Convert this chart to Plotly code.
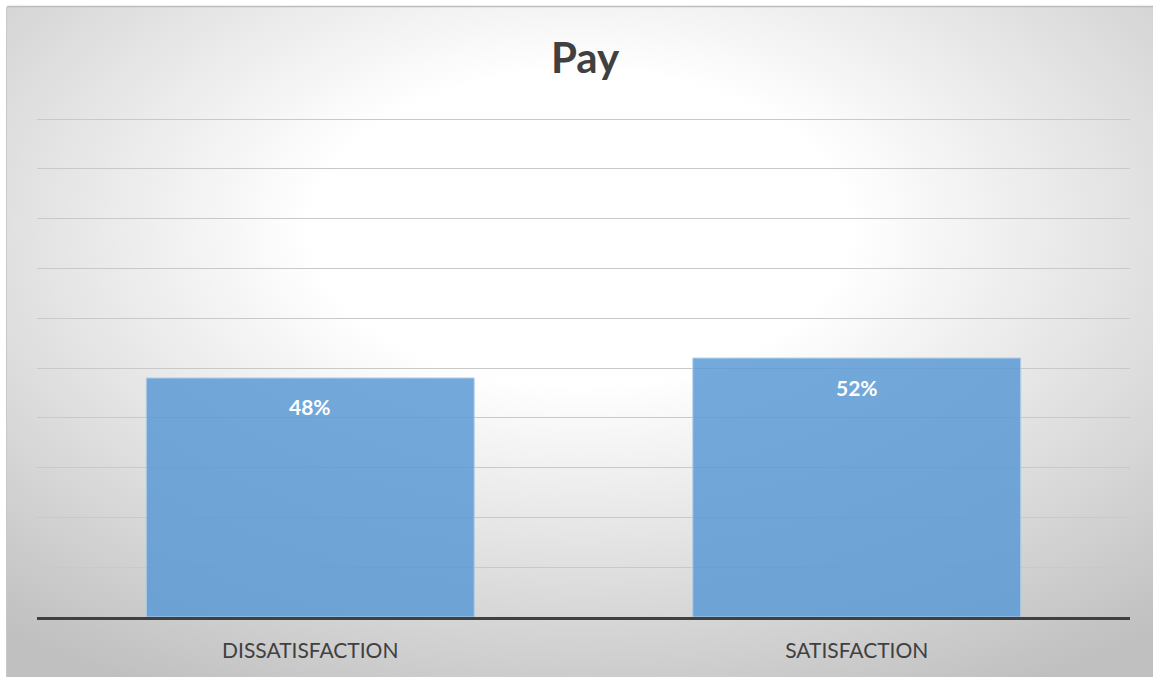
import base64
import plotly.graph_objects as go

# Survey result for the "Pay" item
categories = ["DISSATISFACTION", "SATISFACTION"]
shares = [0.48, 0.52]
title_text = "Pay"

W, H = 1153, 677
L, R, T, B = 37, 23, 113, 60
plot_w = W - L - R
plot_h = H - T - B
# axis headroom so the 100 % gridline sits just below the plot edge
unit_h = 498
y_top = plot_h / unit_h

# Soft radial backdrop (white centre fading to grey edges)
svg = (
    '<svg xmlns="http://www.w3.org/2000/svg" width="1146" height="670" '
    'preserveAspectRatio="none" viewBox="0 0 1146 670">'
    '<defs><radialGradient id="g" cx="0.5" cy="0.33" r="0.78">'
    '<stop offset="0" stop-color="#ffffff"/>'
    '<stop offset="0.3" stop-color="#ffffff"/>'
    '<stop offset="1" stop-color="#c0c0c0"/>'
    '</radialGradient></defs>'
    '<rect width="1146" height="670" fill="url(#g)"/></svg>'
)
bg_uri = "data:image/svg+xml;base64," + base64.b64encode(svg.encode()).decode()


def px_x(p):
    return (p - L) / plot_w


def px_y(p):
    return (H - B - p) / plot_h


fig = go.Figure()
fig.add_trace(
    go.Bar(
        x=categories,
        y=shares,
        marker=dict(color="#5b9bd5", opacity=0.85,
                    line=dict(color="#a9cbea", width=1)),
        hoverinfo="skip",
    )
)

for c, v in zip(categories, shares):
    fig.add_annotation(
        x=c, y=v, text=f"<b>{v:.0%}</b>", showarrow=False,
        yshift=-29, font=dict(family="Lato", size=21, color="#ffffff"),
    )

fig.update_layout(
    width=W, height=H,
    margin=dict(l=L, r=R, t=T, b=B, pad=0),
    paper_bgcolor="#ffffff",
    plot_bgcolor="rgba(0,0,0,0)",
    bargap=0.4,
    showlegend=False,
    title=dict(
        text=f"<b>{title_text}</b>", x=585 / W, xanchor="center",
        y=1 - 58 / H, yanchor="middle",
        font=dict(family="Lato", size=42, color="#404040"),
    ),
    images=[dict(
        source=bg_uri, xref="paper", yref="paper",
        x=px_x(7), y=px_y(7), sizex=(W - 7) / plot_w, sizey=(H - 7) / plot_h,
        xanchor="left", yanchor="top", sizing="stretch", layer="below",
    )],
    shapes=[
        dict(type="line", xref="paper", yref="paper",
             x0=px_x(7), x1=px_x(W), y0=px_y(6.5), y1=px_y(6.5),
             line=dict(color="#bdbdbd", width=1.5)),
        dict(type="line", xref="paper", yref="paper",
             x0=px_x(6.5), x1=px_x(6.5), y0=px_y(7), y1=px_y(H),
             line=dict(color="#c8c8c8", width=1)),
    ],
    xaxis=dict(
        showgrid=False, showline=True, linecolor="#404040", linewidth=3,
        ticks="", tickfont=dict(family="Lato", size=21, color="#404040"),
        ticklabelstandoff=13, zeroline=False,
    ),
    yaxis=dict(
        range=[0, y_top], tickvals=[i / 10 for i in range(11)],
        showticklabels=False, showgrid=True,
        gridcolor="#c9c9c9", gridwidth=1, zeroline=False, showline=False,
    ),
)

fig.write_html("out.html")
